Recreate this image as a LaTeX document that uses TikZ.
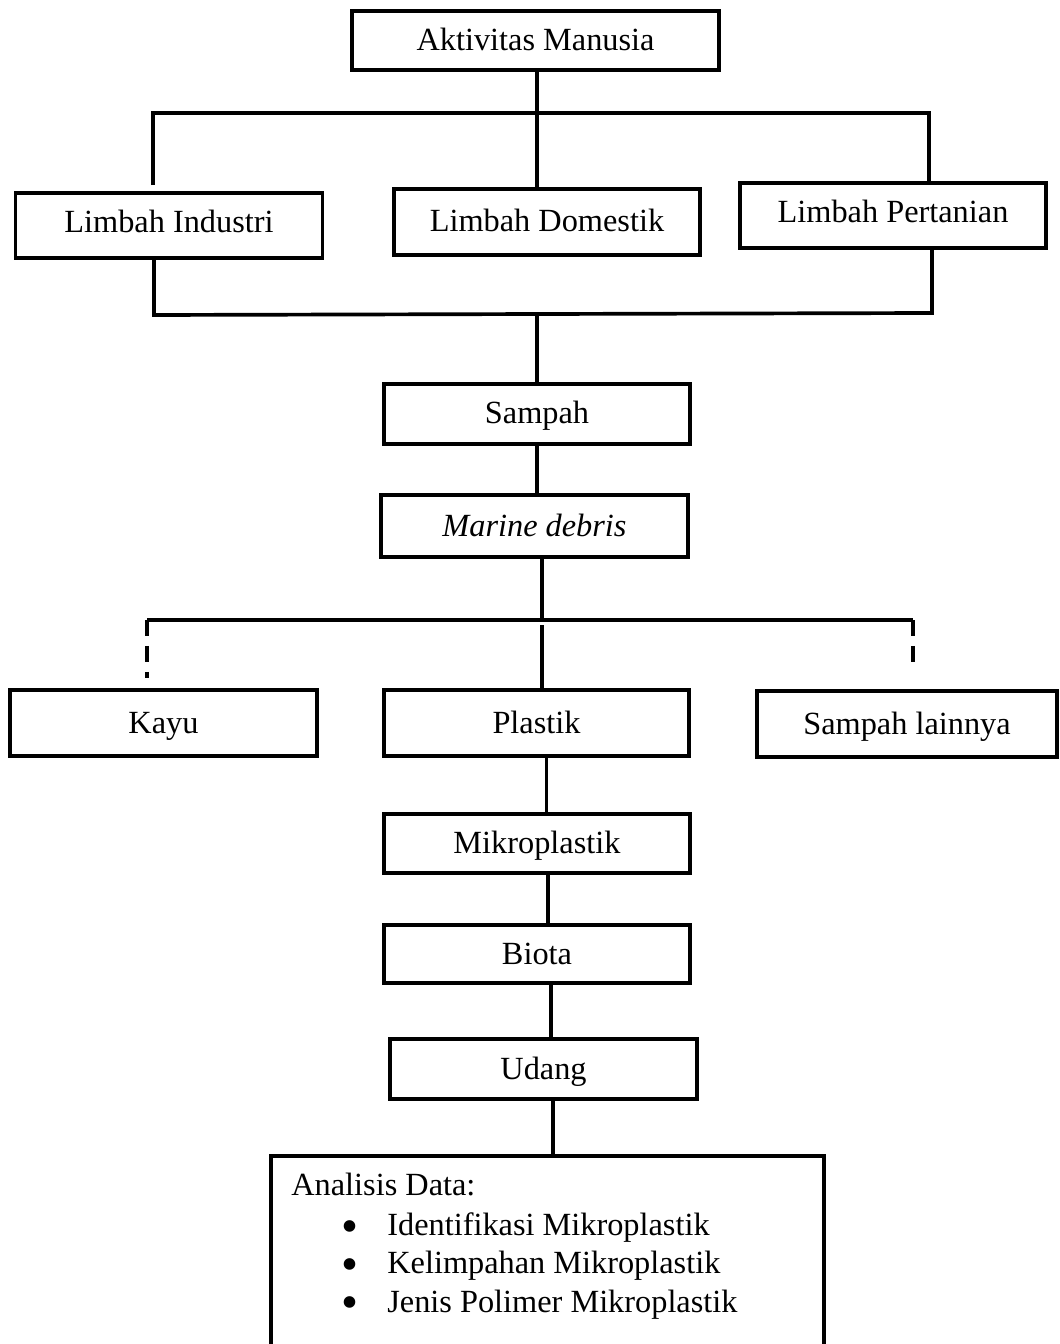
\documentclass[tikz,border=0pt]{standalone}
\usepackage{fontspec}
\setmainfont{Liberation Serif}
\usetikzlibrary{positioning}

\begin{document}
\begin{tikzpicture}[
  x=0.02cm, y=-0.02cm,
  font=\fontsize{18.4}{22}\selectfont,
  box/.style={rectangle, draw, line width=2.2pt, inner sep=0pt, align=center, minimum width=6.12cm, minimum height=1.28cm, text height=0.52cm, text depth=0.12cm},
  conn/.style={line width=2.1pt},
  dashconn/.style={line width=2.1pt, dash pattern=on 0.32cm off 0.2cm},
  item/.style={anchor=base west, inner sep=0pt},
]
\useasboundingbox (0,0) rectangle (1060,1344);
\clip (0,0) rectangle (1060,1344);

\node[box, minimum width=7.34cm, minimum height=1.18cm] (manusia) at (535.5,40.5) {Aktivitas Manusia};
\node[box, minimum width=6.14cm, minimum height=1.3cm, text height=0.47cm, text depth=0.17cm] (industri) at (169,225.5) {Limbah Industri};
\node[box, minimum height=1.32cm] (domestik) at (547,222) {Limbah Domestik};
\node[box, minimum height=1.3cm, text height=0.47cm, text depth=0.17cm] (pertanian) at (893,215.5) {Limbah Pertanian};
\node[box, minimum height=1.2cm] (sampah) at (537,414) {Sampah};
\node[box, minimum width=6.14cm, minimum height=1.24cm] (debris) at (534.5,526) {\textit{Marine debris}};
\node[box, minimum width=6.14cm, minimum height=1.32cm] (kayu) at (163.5,723) {Kayu};
\node[box, minimum width=6.1cm, minimum height=1.32cm] (plastik) at (536.5,723) {Plastik};
\node[box, minimum width=6cm, minimum height=1.32cm] (lainnya) at (907,724) {Sampah lainnya};
\node[box, minimum height=1.18cm] (mikro) at (537,843.5) {Mikroplastik};
\node[box, minimum height=1.16cm] (biota) at (537,954) {Biota};
\node[box, minimum width=6.14cm, minimum height=1.2cm] (udang) at (543.5,1069) {Udang};
\node[box, minimum width=11.06cm, minimum height=3.92cm] (analisis) at (547.5,1254) {};

\node[item] (judul) at (291,1195) {Analisis Data:};
\node[item] (identifikasi) at (341,1235) {\makebox[0.92cm][l]{\raisebox{-0.14cm}[0pt][0pt]{\scalebox{1.5}{\textbullet}}}Identifikasi Mikroplastik};
\node[item, below=0.76cm of identifikasi.base west, anchor=base west] (kelimpahan) {\makebox[0.92cm][l]{\raisebox{-0.14cm}[0pt][0pt]{\scalebox{1.5}{\textbullet}}}Kelimpahan Mikroplastik};
\node[item, below=0.78cm of kelimpahan.base west, anchor=base west] (polimer) {\makebox[0.92cm][l]{\raisebox{-0.14cm}[0pt][0pt]{\scalebox{1.5}{\textbullet}}}Jenis Polimer Mikroplastik};

\coordinate (atas) at (537,113);
\coordinate (atas kiri) at (153,113);
\coordinate (atas kanan) at (929,113);
\coordinate (bawah kiri) at (154,315);
\coordinate (bawah kanan) at (932,313);
\coordinate (simpul) at (542,620);
\coordinate (simpul kiri) at (147,620);
\coordinate (simpul kanan) at (913,620);

\draw[conn] (manusia.south -| atas) -- (atas |- domestik.north);
\draw[conn] ([yshift=0.12cm]atas kiri |- industri.north) -- (atas kiri) -- (atas kanan) -- (atas kanan |- pertanian.north);
\draw[conn] (industri.south -| bawah kiri) -- (bawah kiri) -- (bawah kanan) -- (bawah kanan |- pertanian.south);
\draw[conn] (sampah.north |- bawah kiri) -- (sampah.north);
\draw[conn] (sampah.south) -- (sampah.south |- debris.north);
\draw[conn] (simpul |- debris.south) -- (simpul);
\draw[conn] (simpul kiri) -- (simpul kanan);
\draw[conn] ([yshift=-0.1cm]simpul) -- (simpul |- plastik.north);
\draw[dashconn] (simpul kiri) -- ([yshift=0.2cm]simpul kiri |- kayu.north);
\draw[dashconn] (simpul kanan) -- ([yshift=0.44cm]simpul kanan |- lainnya.north);
\draw[conn] ([xshift=0.2cm]plastik.south) -- ([xshift=0.2cm]plastik.south |- mikro.north);
\draw[conn] ([xshift=0.22cm]mikro.south) -- ([xshift=0.22cm]mikro.south |- biota.north);
\draw[conn] ([xshift=0.28cm]biota.south) -- ([xshift=0.28cm]biota.south |- udang.north);
\draw[conn] ([xshift=0.19cm]udang.south) -- ([xshift=0.19cm]udang.south |- analisis.north);

\end{tikzpicture}
\end{document}
